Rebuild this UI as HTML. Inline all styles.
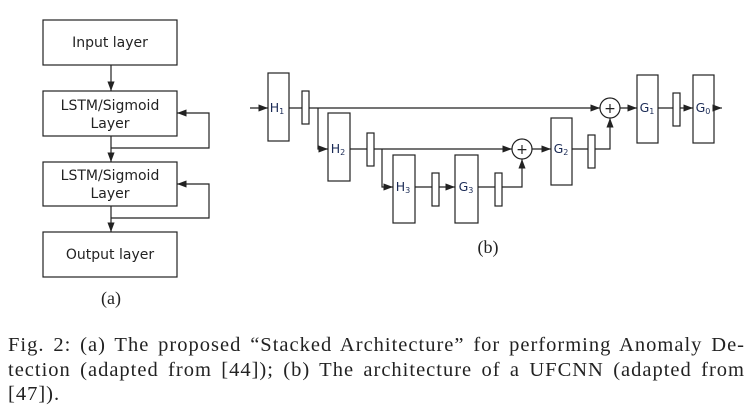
<!DOCTYPE html>
<html><head><meta charset="utf-8"><style>
body{margin:0;background:#fff;width:756px;height:412px;overflow:hidden;position:relative}
svg{position:absolute;left:0;top:0}
.cap{position:absolute;left:8px;width:737px;font-family:"Liberation Serif",serif;font-size:20.5px;letter-spacing:1px;line-height:24px;color:#222;white-space:nowrap}
.j{text-align:justify;text-align-last:justify}
</style></head><body>
<svg width="756" height="412">
<defs><marker id="a" markerWidth="8" markerHeight="6" refX="8" refY="3" orient="auto"><path d="M0,0L8,3L0,6z" fill="#222"/></marker></defs>
<g stroke="#222" stroke-width="1.2" fill="none">
<rect x="43" y="20" width="134" height="45"/>
<rect x="43" y="91" width="134" height="45"/>
<rect x="43" y="162" width="134" height="44"/>
<rect x="43" y="232" width="134" height="45"/>
<path d="M111,65V91" marker-end="url(#a)"/>
<path d="M111,136V162" marker-end="url(#a)"/>
<path d="M111,206V232" marker-end="url(#a)"/>
<path d="M111,148H209V113H177" marker-end="url(#a)"/>
<path d="M111,218H209V184H177" marker-end="url(#a)"/>
<rect x="268" y="73" width="21" height="68"/>
<rect x="302" y="91" width="7" height="33"/>
<rect x="328" y="113" width="22" height="68"/>
<rect x="367" y="133" width="7" height="33"/>
<rect x="393" y="155" width="22" height="68"/>
<rect x="432" y="173" width="7" height="33"/>
<rect x="455" y="155" width="23" height="68"/>
<rect x="495" y="173" width="7" height="33"/>
<rect x="551" y="118" width="21" height="67"/>
<rect x="588" y="135" width="7" height="33"/>
<rect x="637" y="75" width="21" height="68"/>
<rect x="673" y="93" width="7" height="33"/>
<rect x="693" y="75" width="21" height="68"/>
<circle cx="522" cy="149" r="10"/>
<circle cx="610" cy="108" r="10"/>
<path d="M250,108H268" marker-end="url(#a)"/>
<path d="M289,108H302M309,108H600" marker-end="url(#a)"/>
<path d="M318,108V149H328" marker-end="url(#a)"/>
<path d="M350,149H367M374,149H512" marker-end="url(#a)"/>
<path d="M382,149V187H393" marker-end="url(#a)"/>
<path d="M415,187H432M439,187H455" marker-end="url(#a)"/>
<path d="M478,187H495M502,187H522V159" marker-end="url(#a)"/>
<path d="M532,149H551" marker-end="url(#a)"/>
<path d="M572,149H588M595,149H610V118" marker-end="url(#a)"/>
<path d="M620,108H637" marker-end="url(#a)"/>
<path d="M658,108H673M680,108H693" marker-end="url(#a)"/>
<path d="M714,108H722" marker-end="url(#a)"/>
</g>
<g font-family="DejaVu Sans,sans-serif" font-size="14" fill="#222" text-anchor="middle">
<text x="110" y="47">Input layer</text>
<text x="110" y="110">LSTM/Sigmoid</text><text x="110" y="128">Layer</text>
<text x="110" y="180">LSTM/Sigmoid</text><text x="110" y="198">Layer</text>
<text x="110" y="259">Output layer</text>
<g font-size="12.5" fill="#1a2a55">
<text x="277" y="112">H<tspan font-size="8" dy="2">1</tspan></text>
<text x="338" y="153">H<tspan font-size="8" dy="2">2</tspan></text>
<text x="403" y="191">H<tspan font-size="8" dy="2">3</tspan></text>
<text x="466" y="191">G<tspan font-size="8" dy="2">3</tspan></text>
<text x="561" y="153">G<tspan font-size="8" dy="2">2</tspan></text>
<text x="647" y="112">G<tspan font-size="8" dy="2">1</tspan></text>
<text x="703" y="112">G<tspan font-size="8" dy="2">0</tspan></text>
</g>
<text x="522" y="154" font-size="14">+</text>
<text x="610" y="113" font-size="14">+</text>
<text x="111" y="304" font-family="Liberation Serif,serif" font-size="18">(a)</text>
<text x="488" y="253" font-family="Liberation Serif,serif" font-size="18">(b)</text>
</g>
</svg>
<div>
<div class="cap j" style="top:333px">Fig. 2: (a) The proposed “Stacked Architecture” for performing Anomaly De-</div>
<div class="cap j" style="top:358px">tection (adapted from [44]); (b) The architecture of a UFCNN (adapted from</div>
<div class="cap" style="top:382px">[47]).</div>
</div>
</body></html>
